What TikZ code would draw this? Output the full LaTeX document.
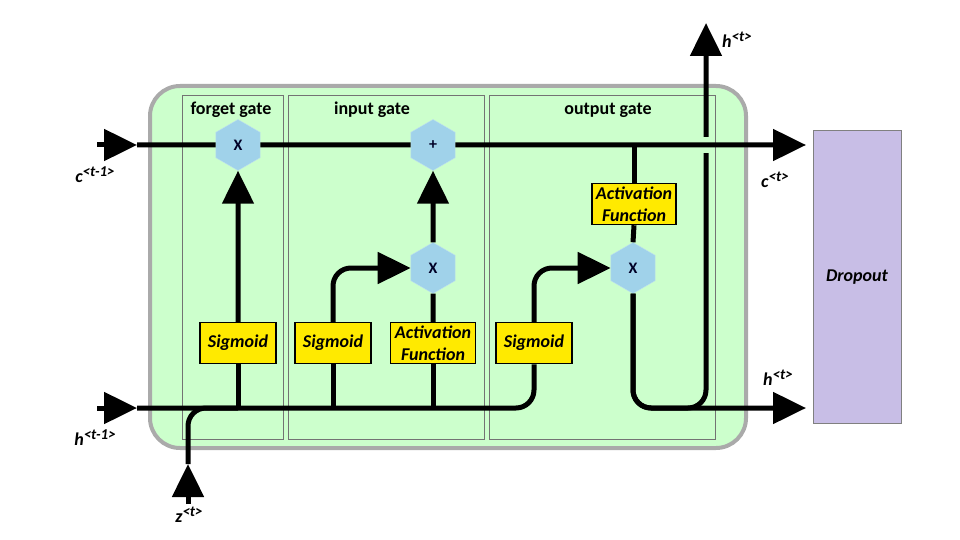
\documentclass[tikz,border=0pt]{standalone}
\usepackage{fontspec}
\setmainfont{Carlito}
\usetikzlibrary{arrows.meta,shapes.geometric}

\definecolor{cellgreen}{RGB}{204,255,204}
\definecolor{cellgray}{RGB}{170,170,170}
\definecolor{hexblue}{RGB}{160,210,234}
\definecolor{boxyellow}{RGB}{255,234,0}
\definecolor{droplilac}{RGB}{200,190,230}

\begin{document}
\begin{tikzpicture}[x=1pt,y=-1pt,
gate/.style ={regular polygon, regular polygon sides=6, shape border rotate=30,
  draw=hexblue!70!white, fill=hexblue, text=black!85!blue,
  minimum size=51pt, inner sep=0pt, font=\fontsize{16}{16}\selectfont\bfseries
},
act/.style ={rectangle, draw=black, line width=1.5pt, fill=boxyellow,
  minimum width=76pt, minimum height=41pt, inner sep=1pt, align=center,
  font=\fontsize{18}{22}\selectfont\bfseries\itshape
},
panel/.style ={draw=black!55, line width=0.6pt},
title/.style ={font=\fontsize{18}{18}\selectfont\bfseries},
lbl/.style ={font=\fontsize{18}{18}\selectfont\bfseries\itshape},
wire/.style ={line width=5pt, rounded corners=18pt},
flow/.style ={wire, -{Triangle[length=33pt,width=31pt]}}]
\useasboundingbox (0,0) rectangle (960,540);

% cell and gate panels
\draw[draw=cellgray, line width=4pt, fill=cellgreen, rounded corners=30pt] (150,86) rectangle (746,448);
\draw[panel] (182,95) rectangle (283,439);
\draw[panel] (288,95) rectangle (484,439);
\draw[panel] (489,95) rectangle (715,439);
\node (tf) at (231,110) [title] {forget gate};
\node (ti) at (372,110) [title] {input gate};
\node (to) at (608,110) [title] {output gate};

% dropout
\node (drop) at (857,277) [rectangle, draw=black!50, fill=droplilac, minimum width=88pt,
  minimum height=293pt, font=\fontsize{18}{18}\selectfont\bfseries\itshape] {Dropout};

% operations
\node (xf) at (238,145) [gate] {X};
\node (plus) at (433,145) [gate] {+};
\node (xin) at (433,268) [gate] {X};
\node (xout) at (633,268) [gate] {X};
\node (sigf) at (238,343) [act] {Sigmoid};
\node (sigi) at (333,343) [act] {Sigmoid};
\node (actin) at (433,343) [act, minimum width=85pt] {Activation\\Function};
\node (sigo) at (534,343) [act] {Sigmoid};
\node (actout) at (634,204) [act, minimum width=84pt] {Activation\\Function};

% free ends
\coordinate (cin) at (97,145);
\coordinate (cl) at (137,145);
\coordinate (cout) at (806,145);
\coordinate (hin) at (97,408);
\coordinate (hl) at (137,408);
\coordinate (hout) at (806,408);
\coordinate (hup) at (706,23);
\coordinate (zin) at (188,504);
\coordinate (zt) at (188,464);

% labels
\node (lcin) at (95,175) [lbl] {c\raisebox{0.7ex}{\fontsize{15}{15}\selectfont <t-1>}};
\node (lhin) at (95,438) [lbl] {h\raisebox{0.7ex}{\fontsize{15}{15}\selectfont <t-1>}};
\node (lz) at (189,515) [lbl] {z\raisebox{0.7ex}{\fontsize{15}{15}\selectfont <t>}};
\node (lcout) at (775,180) [lbl] {c\raisebox{0.7ex}{\fontsize{15}{15}\selectfont <t>}};
\node (lhout) at (778,378) [lbl] {h\raisebox{0.7ex}{\fontsize{15}{15}\selectfont <t>}};
\node (lhup) at (737,40) [lbl] {h\raisebox{0.7ex}{\fontsize{15}{15}\selectfont <t>}};

% hidden state path
\draw[flow] (hin) -- (hl);
\draw[flow] (zin) -- (zt);
\draw[wire] (zt) |- (sigf.south |- hl);
\draw[wire] (hl) -| (sigo.south);
\draw[wire] (sigf.south |- hl) -- (sigf.south);
\draw[wire] (sigi.south |- hl) -- (sigi.south);
\draw[wire] (actin.south |- hl) -- (actin.south);

% gates
\draw[flow] (sigf.north) -- (xf.south);
\draw[flow] (sigi.north) |- (xin.west);
\draw[wire] (actin.north) -- (xin.south);
\draw[flow] (xin.north) -- (plus.south);
\draw[flow] (sigo.north) |- (xout.west);
\draw[wire] (actout.south) -- (xout.north);
\draw[flow] (xout.south) |- (hout);
\draw[flow] (xout.south) |- (hup |- hout) -- (hup);
\fill[cellgreen] (699,137) rectangle (713,153);

% cell state path
\draw[flow] (cin) -- (cl);
\draw[wire] (cl) -- (xf.west);
\draw[wire] (xf.east) -- (plus.west);
\draw[flow] (plus.east) -- (cout);
\draw[wire] (actout.north) -- (actout.north |- cout);
\end{tikzpicture}
\end{document}
